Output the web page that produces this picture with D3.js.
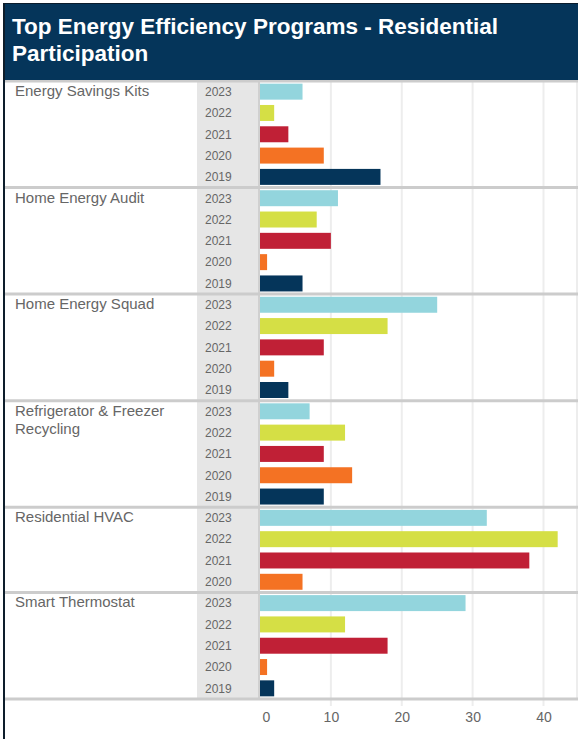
<!DOCTYPE html>
<html lang="en">

<head>
    <meta charset="UTF-8">
    <script src="https://d3js.org/d3.v7.min.js"></script>
    <style>
        html,
        body {
            margin: 0;
            padding: 0;
            overflow: hidden;
            background: #fff;
        }

        svg {
            display: block;
            font-family: "Liberation Sans", Arial, sans-serif;
        }

        .title {
            fill: #fff;
            font-size: 22.5px;
            font-weight: bold;
        }

        .program {
            fill: #666;
            font-size: 15px;
        }

        .year {
            fill: #666;
            font-size: 12px;
        }

        .axis text {
            fill: #666;
            font-size: 14px;
        }

        .axis path,
        .axis line {
            display: none;
        }
    </style>
</head>

<body>
    <svg id="chart" width="578" height="739"></svg>
    <script>
        // programs (top to bottom) and values per year
        const programs = ["Energy Savings Kits", "Home Energy Audit", "Home Energy Squad",
            "Refrigerator & Freezer Recycling", "Residential HVAC", "Smart Thermostat"];
        const years = [2023, 2022, 2021, 2020, 2019];
        const v2023 = [6, 11, 25, 7, 32, 29];
        const v2022 = [2, 8, 18, 12, 42, 12];
        const v2021 = [4, 10, 9, 9, 38, 18];
        const v2020 = [9, 1, 2, 13, 6, 1];
        const v2019 = [17, 6, 4, 9, null, 2];
        const xTicks = [0, 10, 20, 30, 40];

        const yearColors = ["#93d5dd", "#d5df45", "#c02036", "#f47223", "#05355a"];
        const series = [v2023, v2022, v2021, v2020, v2019];

        const svg = d3.select("#chart");
        const W = 578, plotTop = 81, plotBottom = 699;

        // one group per program, only the years that have a value
        const groups = programs.map((p, i) => ({
            name: p,
            rows: years.map((yr, j) => ({ year: yr, value: series[j][i], color: yearColors[j] }))
                .filter(d => d.value != null)
        }));
        const totalRows = d3.sum(groups, g => g.rows.length);
        const rowY = d3.scaleLinear().domain([0, totalRows]).range([plotTop, plotBottom]);
        let acc = 0;
        groups.forEach(g => { g.start = acc; acc += g.rows.length; g.end = acc; });

        const x = d3.scaleLinear().domain([0, 40]).range([260, 543.5]);

        // year column background
        svg.append("rect").attr("x", 197).attr("y", plotTop).attr("width", 61)
            .attr("height", plotBottom - plotTop).attr("fill", "#e6e6e6");

        // gridlines
        svg.append("g").selectAll("line").data(xTicks.slice(1)).join("line")
            .attr("x1", d => x(d)).attr("x2", d => x(d))
            .attr("y1", plotTop).attr("y2", plotBottom + 7)
            .attr("stroke", "#ededed").attr("stroke-width", 2);
        svg.append("line").attr("x1", 577).attr("x2", 577).attr("y1", plotTop).attr("y2", plotBottom)
            .attr("stroke", "#ededed").attr("stroke-width", 2);

        // bars
        const panel = svg.append("g").selectAll("g").data(groups).join("g");
        panel.each(function (g) {
            const band = d3.scaleBand().domain(g.rows.map(d => d.year))
                .range([rowY(g.start), rowY(g.end)])
                .paddingInner(0.25).paddingOuter(0.125);
            const sel = d3.select(this);
            sel.selectAll("rect").data(g.rows).join("rect")
                .attr("x", x(0))
                .attr("y", d => band(d.year))
                .attr("width", d => x(d.value) - x(0))
                .attr("height", band.bandwidth())
                .attr("fill", d => d.color);
            sel.selectAll("text.year").data(g.rows).join("text")
                .attr("class", "year")
                .attr("x", 205)
                .attr("y", d => band(d.year) + band.bandwidth() / 2)
                .attr("dy", "0.36em")
                .text(d => d.year);
        });

        // program labels (wrapped like the original)
        const labelLines = { "Refrigerator & Freezer Recycling": ["Refrigerator & Freezer", "Recycling"] };
        panel.append("text")
            .attr("class", "program")
            .attr("x", 15)
            .attr("y", g => rowY(g.start) + 15)
            .selectAll("tspan")
            .data(g => labelLines[g.name] || [g.name])
            .join("tspan")
            .attr("x", 15)
            .attr("dy", (d, i) => i ? 18 : 0)
            .text(d => d);

        // divider between year column and bars
        svg.append("line").attr("x1", 259).attr("x2", 259).attr("y1", plotTop).attr("y2", plotBottom)
            .attr("stroke", "#d0d0d0").attr("stroke-width", 2);

        // separators between programs
        const seps = [0].concat(groups.map(g => g.end));
        svg.append("g").selectAll("line").data(seps).join("line")
            .attr("x1", 5).attr("x2", W)
            .attr("y1", d => rowY(d)).attr("y2", d => rowY(d))
            .attr("stroke", "#cccccc").attr("stroke-width", 3);

        // x axis
        const axis = svg.append("g").attr("class", "axis")
            .attr("transform", `translate(0,${plotBottom + 9})`)
            .call(d3.axisBottom(x).tickValues(xTicks).tickSize(0).tickPadding(4));
        axis.selectAll(".tick text").filter(d => d === 0).attr("dx", 6);

        // header
        svg.append("rect").attr("x", 3).attr("y", 3).attr("width", W - 3).attr("height", 77)
            .attr("fill", "#05355a");
        svg.append("line").attr("x1", 3).attr("x2", W).attr("y1", 3.5).attr("y2", 3.5)
            .attr("stroke", "#0a1c2c").attr("stroke-width", 1);
        svg.append("text").attr("class", "title").attr("x", 12).attr("y", 34)
            .text("Top Energy Efficiency Programs - Residential");
        svg.append("text").attr("class", "title").attr("x", 12).attr("y", 61)
            .text("Participation");

        // left frame edge
        svg.append("line").attr("x1", 4).attr("x2", 4).attr("y1", 3).attr("y2", 739)
            .attr("stroke", "#0d1d2b").attr("stroke-width", 2);
    </script>
</body>

</html>
